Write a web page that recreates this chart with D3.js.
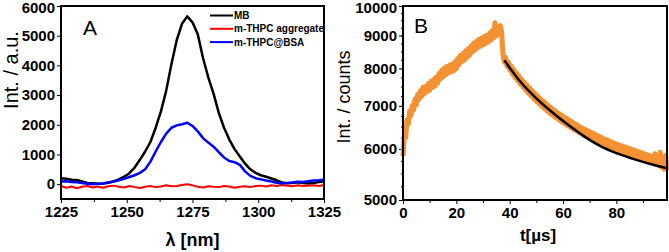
<!DOCTYPE html>
<html>
<head>
<meta charset="utf-8">
<script src="https://cdn.jsdelivr.net/npm/d3@7"></script>
<style>
  body { margin: 0; background: #fff; }
  svg { display: block; font-family: "Liberation Sans", Arial, sans-serif; }
  .tick text { font-weight: bold; font-size: 15px; }
</style>
</head>
<body>
<div id="container"></div>
<script>
/* CONSTANTS AND GLOBALS */
const width = 669, height = 252;

// panel A - wavelength (nm), 2 nm steps
const wavelength = d3.range(1225, 1326, 2);
const mbSignal = [200, 180, 150, 140, 90, 40, 30, 10, 20, 50, 90, 160, 250, 370, 560, 820, 1100, 1420, 1900, 2450,
  3150, 4050, 4850, 5400, 5650, 5450, 5050, 4250, 3600, 3050, 2400, 1900, 1500, 1180, 930, 690, 500, 380, 300, 250,
  190, 130, 60, 30, 40, 60, 40, 20, 40, 70, 90];
const aggSignal = [-60, -120, -80, -140, -90, -60, -110, -80, -120, -70, -50, -90, -110, -60, -100, -130, -90, -60, -100, -80,
  -40, -70, -60, -30, 0, -40, -90, -110, -70, -90, -100, -60, -80, -120, -90, -70, -100, -60, -50, -80,
  -40, -60, -30, -50, -70, -40, -60, -50, -40, -60, -30];
const bsaSignal = [90, 100, 70, 60, 40, 10, 0, 10, 20, 60, 90, 130, 180, 240, 300, 380, 500, 760, 1100, 1420,
  1700, 1900, 1980, 2020, 2070, 1960, 1780, 1550, 1400, 1260, 1080, 900, 780, 740, 650, 430, 280, 200, 160, 120,
  90, 50, 30, 40, 60, 80, 70, 100, 120, 130, 150];
const seriesNames = ["MB", "m-THPC aggregate", "m-THPC@BSA"];
const seriesColors = ["#000000", "#ff0000", "#0000ff"];
const ticksA_x = [1225, 1250, 1275, 1300, 1325];
const ticksA_y = [0, 1000, 2000, 3000, 4000, 5000, 6000];

// panel B - time (µs), 0.5 µs steps
const time = d3.range(0, 99.25, 0.5);
const counts = [
  // rise, 0 - 37 µs
  5850, 6300, 6250, 6650, 6560, 6870, 6760, 7010, 6900, 7170,
  7020, 7290, 7160, 7390, 7240, 7480, 7310, 7500, 7360, 7580,
  7400, 7640, 7470, 7690, 7510, 7760, 7590, 7860, 7700, 7950,
  7760, 8010, 7820, 8060, 7870, 8090, 7900, 8130, 7930, 8190,
  7990, 8290, 8110, 8380, 8190, 8440, 8240, 8520, 8320, 8580,
  8390, 8670, 8480, 8760, 8540, 8810, 8610, 8880, 8660, 8920,
  8700, 8970, 8750, 9010, 8790, 9080, 8850, 9160, 8920, 9420,
  8980, 9280, 9040, 9330, 9100,
  // decay, 37.5 - 99 µs
  8400, 8180, 8320, 8060, 8190, 7950, 8080, 7840, 7980, 7740,
  7880, 7650, 7790, 7560, 7700, 7480, 7620, 7400, 7540, 7320,
  7460, 7250, 7390, 7180, 7320, 7110, 7250, 7050, 7190, 6990,
  7130, 6930, 7070, 6870, 7010, 6820, 6960, 6770, 6910, 6720,
  6860, 6680, 6810, 6630, 6770, 6590, 6730, 6550, 6690, 6510,
  6650, 6470, 6610, 6430, 6570, 6400, 6530, 6360, 6490, 6330,
  6460, 6290, 6430, 6260, 6400, 6230, 6370, 6200, 6340, 6170,
  6310, 6140, 6280, 6110, 6250, 6090, 6220, 6060, 6200, 6040,
  6170, 6010, 6150, 5990, 6120, 5970, 6100, 5950, 6080, 5930,
  6060, 5910, 6040, 5890, 6020, 5870, 6000, 5850, 5980, 5830,
  5960, 5810, 5940, 5790, 5920, 5770, 5900, 5760, 5880, 5740,
  5860, 5720, 5850, 5700, 5900, 5680, 5820, 5650, 5930, 5620,
  5800, 5580, 5860, 5560];
const fitTime = [38, 43, 49.4, 55.6, 61.9, 68.1, 74.4, 80.6, 86.9, 93.1, 99];
const fitCounts = [8240, 7720, 7230, 6860, 6540, 6270, 6050, 5900, 5780, 5680, 5600];
const ticksB_x = [0, 20, 40, 60, 80];
const ticksB_y = [5000, 6000, 7000, 8000, 9000, 10000];

const boxA = {left: 61, right: 324, top: 6, bottom: 199};
const boxB = {left: 403, right: 667, top: 6, bottom: 200};

let svg = d3.select("#container")
  .append("svg")
  .attr("width", width)
  .attr("height", height);

// keep the top tick label inside the picture
const nudgeTop = g => g.selectAll(".tick text").filter((d, i, n) => i === n.length - 1).attr("dy", "0.42em");

/* PANEL A */
const xA = d3.scaleLinear().domain([1225, 1325]).range([boxA.left, boxA.right]);
const yA = d3.scaleLinear().domain([-500, 6000]).range([boxA.bottom, boxA.top]);

svg.append("g")
  .attr("transform", `translate(0, ${boxA.bottom})`)
  .call(d3.axisBottom(xA).tickValues(d3.range(1237.5, 1325, 25)).tickSize(3).tickFormat(""))
  .call(g => g.select(".domain").remove());
svg.append("g")
  .attr("transform", `translate(0, ${boxA.bottom})`)
  .call(d3.axisBottom(xA).tickValues(ticksA_x).tickSize(4).tickPadding(3).tickFormat(d3.format("d")))
  .call(g => g.select(".domain").remove());
svg.append("g")
  .attr("transform", `translate(${boxA.left}, 0)`)
  .call(d3.axisLeft(yA).tickValues(ticksA_y).tickSize(4).tickPadding(2).tickFormat(d3.format("d")))
  .call(g => g.select(".domain").remove())
  .call(nudgeTop);

const lineA = d3.line()
  .x((d, i) => xA(wavelength[i]))
  .y(d => yA(d));

const plotA = svg.append("g");
[mbSignal, aggSignal, bsaSignal].forEach((s, i) => {
  plotA.append("path")
    .datum(s)
    .attr("fill", "none")
    .attr("stroke", seriesColors[i])
    .attr("stroke-width", i === 1 ? 2 : 2.5)
    .attr("stroke-linejoin", "round")
    .attr("d", lineA);
});

svg.append("rect")
  .attr("x", boxA.left).attr("y", boxA.top)
  .attr("width", boxA.right - boxA.left).attr("height", boxA.bottom - boxA.top)
  .attr("fill", "none").attr("stroke", "#000").attr("stroke-width", 2);

// legend
const legend = svg.append("g");
seriesNames.forEach((name, i) => {
  const y = 15.5 + i * 13.3;
  legend.append("line")
    .attr("x1", 210).attr("x2", 233).attr("y1", y).attr("y2", y)
    .attr("stroke", seriesColors[i]).attr("stroke-width", 2);
  legend.append("text")
    .attr("x", 234).attr("y", y + 3.5)
    .attr("font-size", 10).attr("font-weight", "bold")
    .text(name);
});

svg.append("text").attr("x", 83).attr("y", 35).attr("font-size", 21).text("A");

svg.append("text")
  .attr("x", (boxA.left + boxA.right) / 2).attr("y", 246)
  .attr("text-anchor", "middle").attr("font-size", 18).attr("font-weight", "bold")
  .text("λ [nm]");
svg.append("text")
  .attr("transform", "rotate(-90)")
  .attr("x", -70).attr("y", 18)
  .attr("text-anchor", "middle").attr("font-size", 20)
  .text("Int. / a.u.");

/* PANEL B */
const xB = d3.scaleLinear().domain([0, 99]).range([boxB.left, boxB.right]);
const yB = d3.scaleLog().domain([5000, 10000]).range([boxB.bottom, boxB.top]);

svg.append("g")
  .attr("transform", `translate(0, ${boxB.bottom})`)
  .call(d3.axisBottom(xB).tickValues([10, 30, 50, 70, 90]).tickSize(3).tickFormat(""))
  .call(g => g.select(".domain").remove());
svg.append("g")
  .attr("transform", `translate(0, ${boxB.bottom})`)
  .call(d3.axisBottom(xB).tickValues(ticksB_x).tickSize(4).tickPadding(3))
  .call(g => g.select(".domain").remove());
svg.append("g")
  .attr("transform", `translate(${boxB.left}, 0)`)
  .call(d3.axisLeft(yB).tickValues(d3.range(5250, 10000, 250)).tickSize(2).tickFormat(""))
  .call(g => g.select(".domain").remove());
svg.append("g")
  .attr("transform", `translate(${boxB.left}, 0)`)
  .call(d3.axisLeft(yB).tickValues(ticksB_y).tickSize(4).tickPadding(2).tickFormat(d3.format("d")))
  .call(g => g.select(".domain").remove())
  .call(nudgeTop);

const lineB = d3.line()
  .x((d, i) => xB(time[i]))
  .y(d => yB(d));

const plotB = svg.append("g");
plotB.append("path")
  .datum(counts)
  .attr("fill", "none")
  .attr("stroke", "#f39133")
  .attr("stroke-width", 5)
  .attr("stroke-linejoin", "round")
  .attr("d", lineB);

plotB.append("path")
  .datum(fitCounts)
  .attr("fill", "none")
  .attr("stroke", "#000")
  .attr("stroke-width", 2.5)
  .attr("d", d3.line().curve(d3.curveMonotoneX)
    .x((d, i) => xB(fitTime[i]))
    .y(d => yB(d)));

svg.append("rect")
  .attr("x", boxB.left).attr("y", boxB.top)
  .attr("width", boxB.right - boxB.left).attr("height", boxB.bottom - boxB.top)
  .attr("fill", "none").attr("stroke", "#000").attr("stroke-width", 2);

svg.append("text").attr("x", 414).attr("y", 33).attr("font-size", 21).text("B");

svg.append("text")
  .attr("x", 538).attr("y", 241)
  .attr("text-anchor", "middle").attr("font-size", 17).attr("font-weight", "bold")
  .text("t[µs]");
svg.append("text")
  .attr("transform", "rotate(-90)")
  .attr("x", -97).attr("y", 350)
  .attr("text-anchor", "middle").attr("font-size", 18)
  .text("Int. / counts");
</script>
</body>
</html>
